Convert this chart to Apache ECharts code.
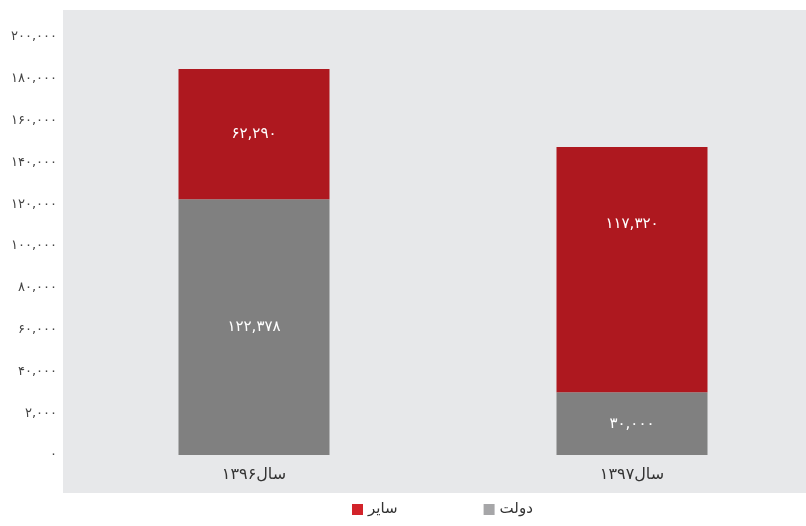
<!DOCTYPE html>
<html>
<head>
<meta charset="utf-8">
<script src="https://cdn.jsdelivr.net/npm/echarts@6/dist/echarts.min.js"></script>
<style>
html,body{margin:0;padding:0;background:#fff;}
#main{width:806px;height:526px;}
</style>
</head>
<body>
<div id="main"></div>
<script>
var years = ['سال۱۳۹۶', 'سال۱۳۹۷'];
var dolat = [122378, 30000];
var sayer = [62290, 117320];
var seriesNames = ['دولت', 'سایر'];
// برچسب های محور عمودی (همانند تصویر اصلی)
var yTicks = ['۰', '۲,۰۰۰', '۴۰,۰۰۰', '۶۰,۰۰۰', '۸۰,۰۰۰', '۱۰۰,۰۰۰', '۱۲۰,۰۰۰', '۱۴۰,۰۰۰', '۱۶۰,۰۰۰', '۱۸۰,۰۰۰', '۲۰۰,۰۰۰'];

function toFa(n) {
	var s = String(n).replace(/\B(?=(\d{3})+(?!\d))/g, ',');
	return s.replace(/\d/g, function(d) { return '۰۱۲۳۴۵۶۷۸۹'.charAt(+d); });
}

var font = 'DejaVu Sans';
var myChart = echarts.init(document.getElementById('main'));

var option = {
	animation: false,
	textStyle: { fontFamily: font },
	graphic: [{
		type: 'rect',
		z: -10,
		shape: { x: 63, y: 10, width: 743, height: 483 },
		style: { fill: '#e7e8ea' }
	}],
	// grid از مرکز ستون اول تا مرکز ستون دوم
	grid: { left: 254, top: 37, right: 174, bottom: 71, containLabel: false },
	legend: {
		bottom: 4,
		left: 347,
		itemWidth: 11,
		itemHeight: 11,
		itemGap: 86,
		icon: 'rect',
		textStyle: { fontFamily: font, fontSize: 15, color: '#333' },
		data: [
			{ name: seriesNames[1], itemStyle: { color: '#d2232a' } },
			{ name: seriesNames[0], itemStyle: { color: '#a6a6a8' } }
		]
	},
	xAxis: {
		type: 'category',
		data: years,
		boundaryGap: false,
		splitLine: { show: false },
		axisLine: { show: false },
		axisTick: { show: false },
		axisLabel: { margin: 12, fontSize: 16, color: '#333', fontFamily: font }
	},
	yAxis: {
		type: 'value',
		min: 0,
		max: 200000,
		interval: 20000,
		offset: 189,
		splitLine: { show: false },
		axisLine: { show: false },
		axisTick: { show: false },
		axisLabel: {
			margin: 8,
			fontSize: 13,
			color: '#444',
			fontFamily: font,
			formatter: function(v) { return yTicks[Math.round(v / 20000)]; }
		}
	},
	series: [
		{
			name: seriesNames[0],
			type: 'bar',
			stack: 'total',
			clip: false,
			barWidth: 151,
			itemStyle: { color: '#808080' },
			label: {
				show: true,
				position: 'inside',
				color: '#fff',
				fontSize: 15,
				fontFamily: font,
				formatter: function(p) { return toFa(p.value); }
			},
			data: dolat
		},
		{
			name: seriesNames[1],
			type: 'bar',
			stack: 'total',
			clip: false,
			barWidth: 151,
			itemStyle: { color: '#ae181f' },
			label: {
				show: true,
				position: 'inside',
				color: '#fff',
				fontSize: 15,
				fontFamily: font,
				formatter: function(p) { return toFa(p.value); }
			},
			data: [
				sayer[0],
				{ value: sayer[1], label: { offset: [0, -46] } }
			]
		}
	]
};
myChart.setOption(option);
</script>
</body>
</html>
